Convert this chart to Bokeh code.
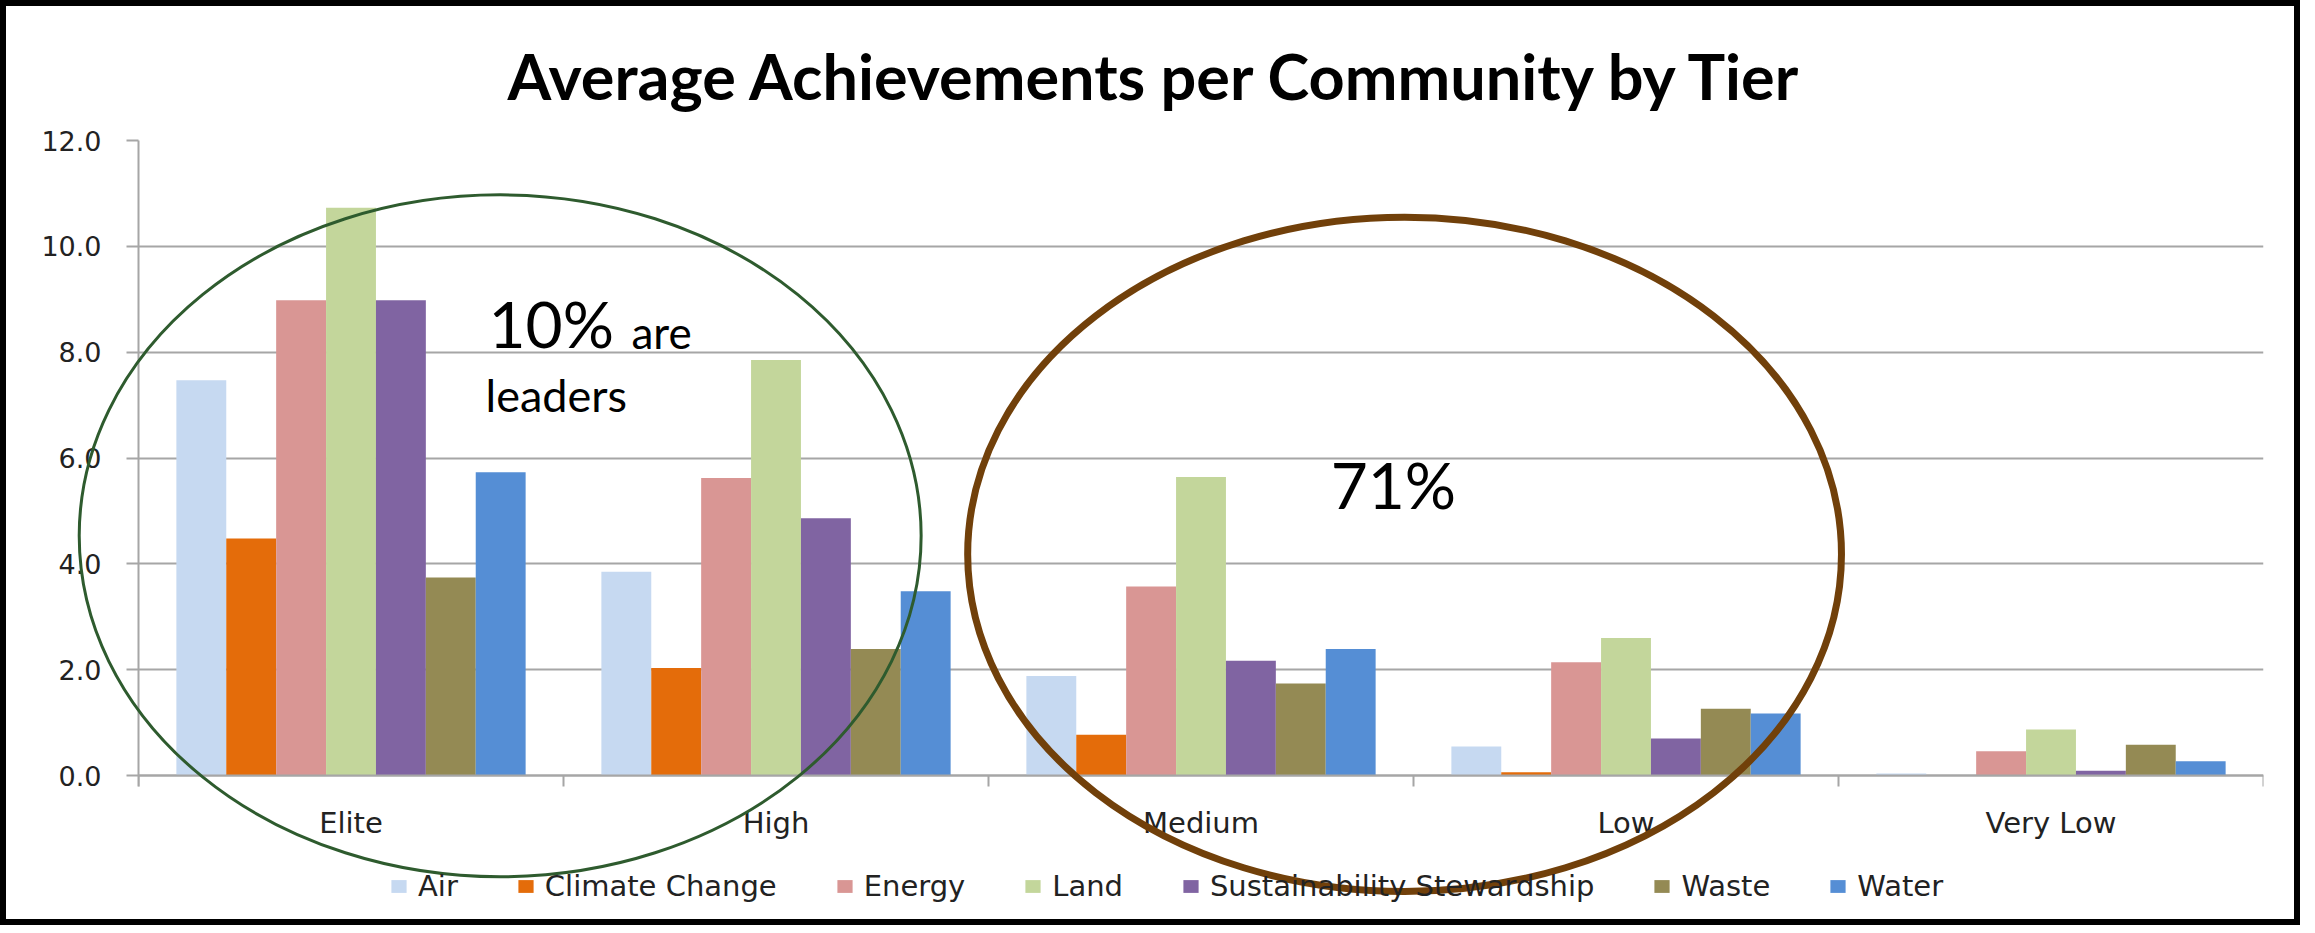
from bokeh.plotting import figure
from bokeh.models import Range1d, FixedTicker, Legend, LegendItem, Label
from bokeh.embed import file_html
from bokeh.resources import INLINE

# ---------------- data ----------------
tiers = ["Elite", "High", "Medium", "Low", "Very Low"]
series_names = ["Air", "Climate Change", "Energy", "Land",
                "Sustainability Stewardship", "Waste", "Water"]
air = [7.47, 3.85, 1.88, 0.55, 0.04]
climate_change = [4.48, 2.03, 0.77, 0.06, 0.0]
energy = [8.98, 5.62, 3.57, 2.14, 0.46]
land = [10.73, 7.85, 5.64, 2.60, 0.87]
sustainability_stewardship = [8.98, 4.86, 2.17, 0.70, 0.09]
waste = [3.74, 2.39, 1.74, 1.26, 0.58]
water = [5.73, 3.48, 2.39, 1.17, 0.27]
series_values = [air, climate_change, energy, land,
                 sustainability_stewardship, waste, water]
y_ticks = [0, 2, 4, 6, 8, 10, 12]
y_tick_labels = ["0.0", "2.0", "4.0", "6.0", "8.0", "10.0", "12.0"]

title_text = "Average Achievements per Community by Tier"
note_big_1 = "10%"
note_small_1 = "are"
note_small_2 = "leaders"
note_big_2 = "71%"

# ---------------- styles ----------------
colors = ["#C6D9F1", "#E46C0A", "#D99694", "#C3D69B", "#8064A2", "#948A54", "#558ED5"]
grid_color = "#A6A6A6"
bar_w = 0.1174

p = figure(width=2300, height=925, output_backend="svg", toolbar_location=None,
           x_range=Range1d(0, len(tiers)), y_range=Range1d(-2.721, 12.0),
           min_border_left=132, min_border_right=43, min_border_top=134,
           min_border_bottom=12, outline_line_color=None,
           background_fill_color="white", border_fill_color="white",
           title=title_text)
p.styles = {"border": "6px solid black"}

# title
p.title.align = "left"
p.title.offset = 369
p.title.text_font = "Lato"
p.title.text_font_size = "63px"
p.title.text_font_style = "bold"
p.title.text_color = "black"
p.title.standoff = 56

# bars
renderers = []
n = len(series_names)
for j, (name, vals, col) in enumerate(zip(series_names, series_values, colors)):
    xs = [i + 0.5 + (j - (n - 1) / 2) * bar_w for i in range(len(tiers))]
    r = p.vbar(x=xs, top=vals, bottom=0, width=bar_w, fill_color=col, line_color=None)
    renderers.append(r)

# axes
xaxis = p.xaxis[0]
xaxis.fixed_location = 0
xaxis.ticker = FixedTicker(ticks=[i + 0.5 for i in range(len(tiers))],
                           minor_ticks=list(range(len(tiers) + 1)))
xaxis.major_label_overrides = {i + 0.5: t for i, t in enumerate(tiers)}
xaxis.major_tick_line_color = None
xaxis.major_tick_out = 0
xaxis.major_tick_in = 0
xaxis.minor_tick_line_color = grid_color
xaxis.minor_tick_line_width = 2
xaxis.minor_tick_out = 11
xaxis.minor_tick_in = 0
xaxis.axis_line_color = grid_color
xaxis.axis_line_width = 2
xaxis.major_label_text_font = "DejaVu Sans"
xaxis.major_label_text_font_size = "29px"
xaxis.major_label_text_color = "#222222"
xaxis.major_label_standoff = 19

yaxis = p.yaxis[0]
yaxis.ticker = FixedTicker(ticks=y_ticks)
yaxis.major_label_overrides = dict(zip(y_ticks, y_tick_labels))
yaxis.bounds = (-0.21, y_ticks[-1])
yaxis.minor_tick_line_color = None
yaxis.major_tick_line_color = grid_color
yaxis.major_tick_line_width = 2
yaxis.major_tick_out = 12
yaxis.major_tick_in = 0
yaxis.axis_line_color = grid_color
yaxis.axis_line_width = 2
yaxis.major_label_text_font = "DejaVu Sans"
yaxis.major_label_text_font_size = "27px"
yaxis.major_label_text_color = "#222222"
yaxis.major_label_standoff = 25

p.xgrid.visible = False
p.ygrid.ticker = FixedTicker(ticks=y_ticks)
p.ygrid.grid_line_color = grid_color
p.ygrid.grid_line_width = 2

# legend
legend = Legend(items=[LegendItem(label=nm, renderers=[r]) for nm, r in zip(series_names, renderers)],
                orientation="horizontal", location=(251, 16),
                padding=0, margin=0, spacing=58,
                glyph_width=19, glyph_height=16, label_standoff=10,
                label_text_font="DejaVu Sans", label_text_font_size="29px",
                label_text_color="#222222",
                background_fill_alpha=0, border_line_color=None)
p.add_layout(legend)

# annotation ellipses
g = p.ellipse(x=0.851, y=4.53, width=1.981, height=12.89,
              fill_color=None, line_color="#2E5B2E", line_width=3)
g.level = "overlay"
b = p.ellipse(x=2.979, y=4.18, width=2.056, height=12.74,
              fill_color=None, line_color="#71400A", line_width=7)
b.level = "overlay"

# annotation texts (vertically centred on the cap height)
p.add_layout(Label(x=0.8235, y=8.535, text=note_big_1, text_font="Lato",
                   text_font_size="64px", text_color="black", text_baseline="middle"))
p.add_layout(Label(x=1.16, y=8.39, text=note_small_1, text_font="Lato",
                   text_font_size="44px", text_color="black", text_baseline="middle"))
p.add_layout(Label(x=0.8165, y=7.20, text=note_small_2, text_font="Lato",
                   text_font_size="45px", text_color="black", text_baseline="middle"))
p.add_layout(Label(x=2.805, y=5.50, text=note_big_2, text_font="Lato",
                   text_font_size="64px", text_color="black", text_baseline="middle"))

open("out.html", "w").write(file_html(p, INLINE))
